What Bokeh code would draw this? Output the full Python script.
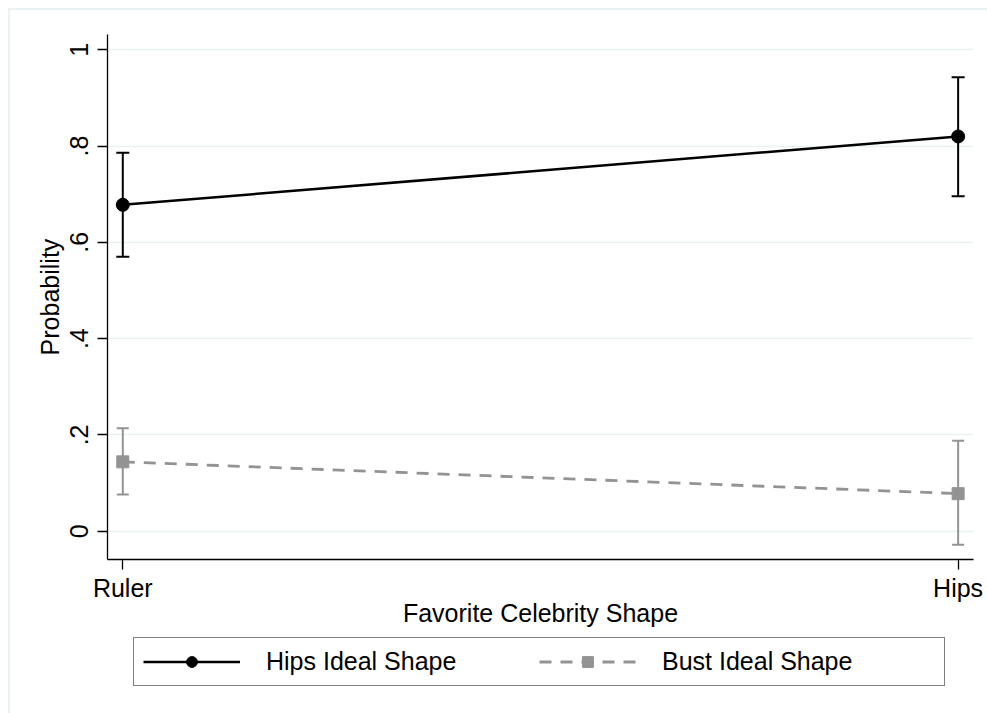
from bokeh.plotting import figure
from bokeh.models import (ColumnDataSource, Whisker, TeeHead, FixedTicker, Legend,
                          LegendItem, Range1d)
from bokeh.layouts import column
from bokeh.embed import file_html
from bokeh.resources import INLINE

# ---- data ----
categories = ["Ruler", "Hips"]
x_pos = [0, 1]
hips_est = [0.678, 0.820]
hips_lo = [0.570, 0.696]
hips_hi = [0.786, 0.943]
bust_est = [0.144, 0.078]
bust_lo = [0.076, -0.028]
bust_hi = [0.214, 0.188]
y_ticks = [0, 0.2, 0.4, 0.6, 0.8, 1.0]
y_tick_labels = ["0", ".2", ".4", ".6", ".8", "1"]
series_names = ["Hips Ideal Shape", "Bust Ideal Shape"]

FONT = "Liberation Sans"
FS = "25px"
GREY = "#939393"
GRID = "#eaf2f3"

p = figure(frame_width=866, frame_height=525,
           x_range=Range1d(-0.0183, 1.0184), y_range=Range1d(-0.0588, 1.0318),
           output_backend="svg", toolbar_location=None,
           min_border_left=107, min_border_right=14, min_border_top=34,
           min_border_bottom=75)
p.border_fill_color = None
p.background_fill_color = "white"
p.outline_line_color = None
p.styles = {"background": ("linear-gradient(%s,%s) 8px 8px / 100%% 2px no-repeat, "
                           "linear-gradient(%s,%s) 8px 8px / 2px 100%% no-repeat")
            % (GRID, GRID, GRID, GRID)}

# grids
p.xgrid.visible = False
p.ygrid.ticker = FixedTicker(ticks=y_ticks)
p.ygrid.grid_line_color = GRID
p.ygrid.grid_line_width = 1.5

# axes
for ax in (p.xaxis[0], p.yaxis[0]):
    ax.axis_line_color = "black"
    ax.axis_line_width = 1.3
    ax.major_tick_line_color = "black"
    ax.major_tick_line_width = 1.3
    ax.major_tick_out = 10
    ax.major_tick_in = 0
    ax.minor_tick_line_color = None
    ax.major_label_text_font = FONT
    ax.major_label_text_font_size = FS
    ax.major_label_text_color = "black"
    ax.axis_label_text_font = FONT
    ax.axis_label_text_font_size = FS
    ax.axis_label_text_font_style = "normal"
    ax.axis_label_text_color = "black"

p.xaxis.ticker = FixedTicker(ticks=x_pos)
p.xaxis.major_label_overrides = {x: c for x, c in zip(x_pos, categories)}
p.xaxis.axis_label = "Favorite Celebrity Shape"
p.xaxis.major_label_standoff = 4
p.xaxis.axis_label_standoff = -6

p.yaxis.ticker = FixedTicker(ticks=y_ticks)
p.yaxis.major_label_overrides = {t: l for t, l in zip(y_ticks, y_tick_labels)}
p.yaxis.major_label_orientation = "vertical"
p.yaxis.axis_label = "Probability"
p.yaxis.major_label_standoff = 9
p.yaxis.axis_label_standoff = 4

src_h = ColumnDataSource(dict(x=x_pos, y=hips_est, lo=hips_lo, hi=hips_hi))
src_b = ColumnDataSource(dict(x=x_pos, y=bust_est, lo=bust_lo, hi=bust_hi))

wb = Whisker(source=src_b, base="x", lower="lo", upper="hi", dimension="height",
             line_color=GREY, line_width=2,
             upper_head=TeeHead(size=12, line_color=GREY, line_width=2),
             lower_head=TeeHead(size=12, line_color=GREY, line_width=2))
wh = Whisker(source=src_h, base="x", lower="lo", upper="hi", dimension="height",
             line_color="black", line_width=2,
             upper_head=TeeHead(size=13, line_color="black", line_width=2),
             lower_head=TeeHead(size=13, line_color="black", line_width=2))
p.add_layout(wb)
p.add_layout(wh)

line_b = dict(line_color=GREY, line_width=2.8, line_dash="12 9")
mark_b = dict(marker="square", size=12, fill_color=GREY, line_color=GREY)
line_h = dict(line_color="black", line_width=2.5)
mark_h = dict(marker="circle", size=13, fill_color="black", line_color="black")

p.line("x", "y", source=src_b, **line_b)
p.scatter("x", "y", source=src_b, **mark_b)
p.line("x", "y", source=src_h, **line_h)
p.scatter("x", "y", source=src_h, **mark_h)

# ---- legend strip (separate figure below the plot, frame aligned with the plot) ----
p2 = figure(width=987, height=79, x_range=Range1d(10, 11), y_range=Range1d(10, 11),
            output_backend="svg", toolbar_location=None,
            x_axis_location=None, y_axis_location=None,
            min_border_left=0, min_border_right=0, min_border_top=0, min_border_bottom=0)
p2.grid.visible = False
p2.outline_line_color = None
p2.border_fill_color = None
p2.background_fill_color = None
p2.styles = {"background": "linear-gradient(%s,%s) 8px 0px / 2px 100%% no-repeat" % (GRID, GRID)}

k_lh = p2.line("x", "y", source=src_h, **line_h)
k_mh = p2.scatter("x", "y", source=src_h, **mark_h)
k_lb = p2.line("x", "y", source=src_b, **line_b)
k_mb = p2.scatter("x", "y", source=src_b, **mark_b)

legend = Legend(items=[LegendItem(label=series_names[0], renderers=[k_lh, k_mh]),
                       LegendItem(label=series_names[1], renderers=[k_lb, k_mb])],
                orientation="horizontal", location=(26, 27),
                padding=9, spacing=0, glyph_width=97, glyph_height=27,
                label_standoff=26, label_width=273, label_height=20,
                label_text_font=FONT, label_text_font_size=FS,
                label_text_color="black",
                border_line_color="black", border_line_width=1.5,
                background_fill_color="white", margin=0)
p2.add_layout(legend, "center")

layout = column(p, p2, spacing=0)
open("out.html", "w").write(file_html(layout, INLINE))
